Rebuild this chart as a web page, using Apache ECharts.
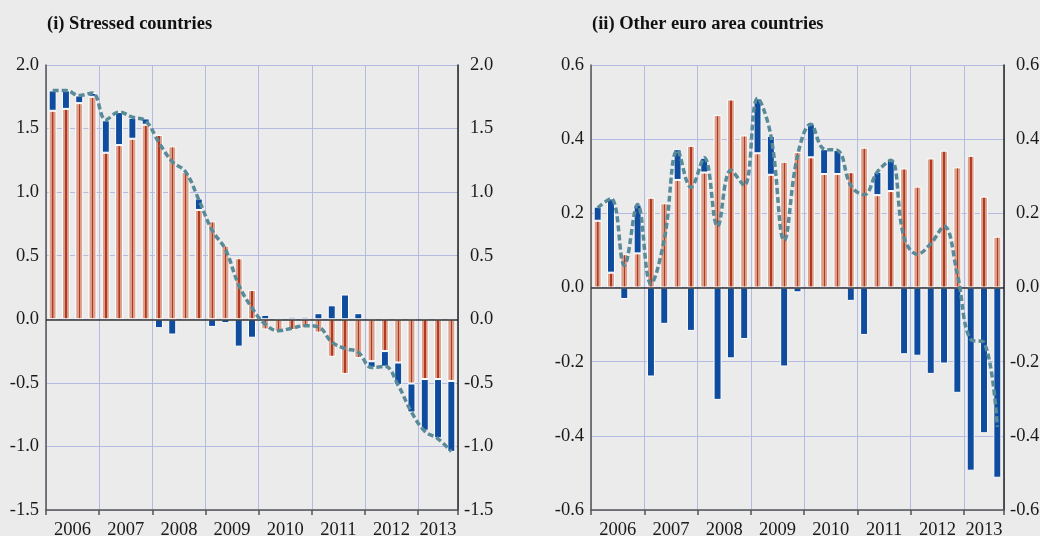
<!DOCTYPE html>
<html>
<head>
<meta charset="utf-8">
<script src="https://cdn.jsdelivr.net/npm/echarts@6/dist/echarts.min.js"></script>
<style>
  html, body { margin: 0; padding: 0; background: #ebebeb; }
  #chart { width: 1040px; height: 536px; }
</style>
</head>
<body>
<div id="chart"></div>
<script>
// Quarterly contributions, 2006 Q1 – 2013 Q3 (31 quarters)
const years = ['2006', '2007', '2008', '2009', '2010', '2011', '2012', '2013'];
const quarters = years.flatMap(y => ['Q1', 'Q2', 'Q3', 'Q4'].map(q => y + ' ' + q)).slice(0, 31);
const yearLabelPos = [2, 6, 10, 14, 18, 22, 26, 29.5];

// (i) Stressed countries
const stressedOrange = [1.64, 1.655, 1.70, 1.75, 1.31, 1.37, 1.42, 1.53, 1.45, 1.36, 1.16, 0.86,
  0.77, 0.58, 0.48, 0.23, -0.08, -0.10, -0.085, -0.07, -0.105, -0.295, -0.43, -0.305,
  -0.33, -0.25, -0.34, -0.505, -0.47, -0.47, -0.485];
const stressedBlue = [0.16, 0.145, 0.06, 0.03, 0.255, 0.26, 0.165, 0.05, -0.07, -0.12, 0, 0.09,
  -0.06, -0.03, -0.215, -0.145, 0.035, 0.015, 0.02, 0.02, 0.048, 0.11, 0.195, 0.048,
  -0.052, -0.123, -0.176, -0.228, -0.406, -0.466, -0.558];
const stressedTotal = [1.80, 1.80, 1.76, 1.78, 1.57, 1.63, 1.59, 1.56, 1.39, 1.24, 1.16, 0.94,
  0.70, 0.55, 0.27, 0.09, -0.04, -0.09, -0.07, -0.05, -0.06, -0.18, -0.23, -0.26,
  -0.38, -0.37, -0.52, -0.73, -0.88, -0.94, -1.04];
const stressedTicks = { min: -1.5, max: 2.0, interval: 0.5 };

// (ii) Other euro area countries
const otherOrange = [0.18, 0.04, 0.09, 0.092, 0.242, 0.227, 0.29, 0.382, 0.31, 0.465, 0.507, 0.41,
  0.362, 0.304, 0.339, 0.365, 0.351, 0.306, 0.306, 0.311, 0.377, 0.249, 0.26, 0.321,
  0.272, 0.348, 0.369, 0.324, 0.355, 0.245, 0.137];
const otherBlue = [0.038, 0.2, -0.031, 0.132, -0.24, -0.098, 0.083, -0.117, 0.04, -0.303, -0.191, -0.139,
  0.148, 0.105, -0.213, -0.013, 0.09, 0.067, 0.065, -0.036, -0.128, 0.063, 0.084, -0.18,
  -0.184, -0.233, -0.205, -0.284, -0.494, -0.393, -0.513];
const otherTotal = [0.215, 0.24, 0.06, 0.224, 0.01, 0.13, 0.37, 0.27, 0.35, 0.165, 0.316, 0.275,
  0.51, 0.41, 0.127, 0.355, 0.44, 0.373, 0.37, 0.275, 0.25, 0.312, 0.343, 0.135,
  0.09, 0.118, 0.165, 0.035, -0.14, -0.148, -0.376];
const otherTicks = { min: -0.6, max: 0.6, interval: 0.2 };

const FONT = '"Liberation Serif", "DejaVu Serif", serif';
const FS = 18.5;
const BLUE = '#0f4c9e';
const GRID = '#b3bbe3';
const ORANGE = {
  type: 'linear', x: 0, y: 0, x2: 1, y2: 0,
  colorStops: [
    { offset: 0, color: '#dca590' },
    { offset: 0.42, color: '#d99c87' },
    { offset: 0.43, color: '#b3381f' },
    { offset: 0.60, color: '#b3381f' },
    { offset: 0.61, color: '#d99d88' },
    { offset: 1, color: '#dfa893' }
  ]
};

// per panel: a hidden category axis carrying the marks, and a value axis
// spanning the same 31 quarter slots that draws year gridlines, ticks and labels
function xAxes(gridIndex) {
  return [{
    gridIndex, type: 'category', data: quarters, boundaryGap: true, show: false, position: 'bottom'
  }, {
    gridIndex, type: 'value', min: 0, max: 31, interval: 4, position: 'bottom',
    axisLine: { show: true, onZero: false, lineStyle: { color: '#555', width: 1.5 } },
    axisTick: { show: true, length: 5, lineStyle: { color: '#555', width: 1.5 } },
    axisLabel: {
      show: true, customValues: yearLabelPos, margin: 11,
      fontFamily: FONT, fontSize: FS, color: '#1a1a1a',
      formatter: v => years[Math.floor(v / 4)]
    },
    splitLine: { show: true, lineStyle: { color: GRID, width: 1 } }
  }];
}

function yAxes(gridIndex, t) {
  const fmt = v => v.toFixed(1);
  return [{
    gridIndex, type: 'value', position: 'left', min: t.min, max: t.max, interval: t.interval,
    axisLine: { show: true, onZero: false, lineStyle: { color: '#555', width: 1.5 } },
    axisTick: { show: false },
    axisLabel: { margin: 7, fontFamily: FONT, fontSize: FS, color: '#1a1a1a', formatter: fmt },
    splitLine: { show: true, lineStyle: { color: GRID, width: 1.2 } }
  }, {
    gridIndex, type: 'value', position: 'right', min: t.min, max: t.max, interval: t.interval,
    axisLine: { show: true, onZero: false, lineStyle: { color: '#222', width: 1.5 } },
    axisTick: { show: false },
    axisLabel: {
      margin: 6, fontFamily: FONT, fontSize: FS, color: '#1a1a1a',
      formatter: v => v < 0 ? '{n|' + fmt(v) + '}' : '{p|' + fmt(v) + '}',
      rich: {
        n: { fontFamily: FONT, fontSize: FS, color: '#1a1a1a' },
        p: { fontFamily: FONT, fontSize: FS, color: '#1a1a1a', padding: [0, 0, 0, 6] }
      }
    },
    splitLine: { show: false }
  }];
}

function panelSeries(idx, orange, blue, total) {
  const axes = { xAxisIndex: idx * 2, yAxisIndex: idx * 2 };
  const bar = { ...axes, type: 'bar', stack: 'p' + idx, barWidth: 8 };
  return [{
    ...bar, name: 'orange' + idx, data: orange,
    itemStyle: { color: ORANGE, borderColor: '#ffffff', borderWidth: 1 }
  }, {
    ...bar, name: 'blue' + idx, data: blue,
    itemStyle: { color: BLUE, borderColor: '#ffffff', borderWidth: 1 },
    markLine: {
      silent: true, symbol: ['none', 'none'], label: { show: false },
      lineStyle: { color: '#333', width: 1.5, type: 'solid' },
      data: [{ yAxis: 0 }]
    }
  }, {
    ...axes, type: 'line', z: 5,
    data: total, smooth: 0.4, symbol: 'none',
    lineStyle: { color: '#588a98', width: 3.5, type: [6, 3] }
  }];
}

const chart = echarts.init(document.getElementById('chart'), null, { renderer: 'canvas' });
chart.setOption({
  backgroundColor: '#ebebeb',
  animation: false,
  title: [
    { text: '(i) Stressed countries', left: 47, top: 15, padding: 0,
      textStyle: { fontFamily: FONT, fontSize: FS, fontWeight: 'bold', color: '#111' } },
    { text: '(ii) Other euro area countries', left: 592, top: 15, padding: 0,
      textStyle: { fontFamily: FONT, fontSize: FS, fontWeight: 'bold', color: '#111' } }
  ],
  grid: [
    { left: 46, right: 582, top: 65, bottom: 26, outerBoundsMode: 'none', containLabel: false },
    { left: 591, right: 36, top: 65, bottom: 26, outerBoundsMode: 'none', containLabel: false }
  ],
  xAxis: [...xAxes(0), ...xAxes(1)],
  yAxis: [...yAxes(0, stressedTicks), ...yAxes(1, otherTicks)],
  series: [
    ...panelSeries(0, stressedOrange, stressedBlue, stressedTotal),
    ...panelSeries(1, otherOrange, otherBlue, otherTotal)
  ]
});
</script>
</body>
</html>
